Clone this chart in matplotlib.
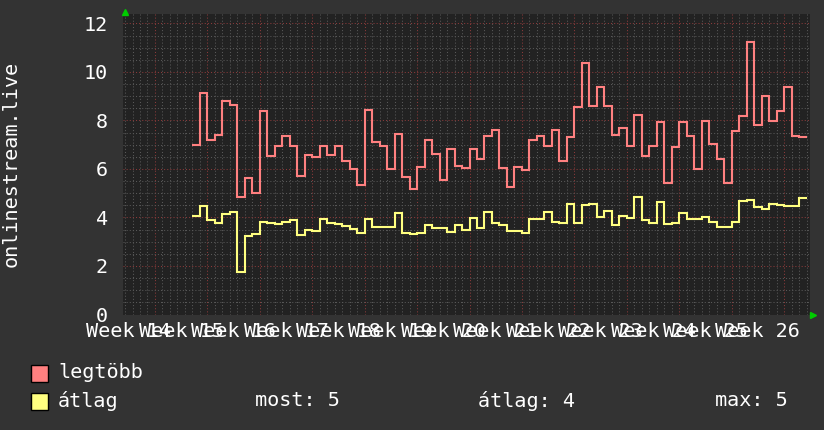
import numpy as np
import matplotlib.pyplot as plt
from matplotlib.patches import Rectangle

# ----------------------
# data (daily values, first value is day 5 of week 15)
# ----------------------

weekLabels = [14, 15, 16, 17, 18, 19, 20, 21, 22, 23, 24, 25, 26]
firstWeek = 15
firstDay = 5

legtobb = [7.0, 9.15, 7.2, 7.42, 8.82, 8.62, 4.84, 5.63, 4.99, 8.37,
           6.55, 6.96, 7.37, 6.96, 5.73, 6.59, 6.48, 6.96, 6.59, 6.96,
           6.34, 5.98, 5.32, 8.44, 7.11, 6.96, 6.0, 7.45, 5.66, 5.18,
           6.07, 7.2, 6.62, 5.54, 6.84, 6.11, 6.05, 6.83, 6.41, 7.34,
           7.62, 6.04, 5.25, 6.07, 5.95, 7.2, 7.37, 6.96, 7.62, 6.32,
           7.3, 8.55, 10.38, 8.58, 9.4, 8.58, 7.41, 7.69, 6.96, 8.23,
           6.55, 6.96, 7.93, 5.43, 6.89, 7.93, 7.37, 6.0, 7.99, 7.04,
           6.43, 5.43, 7.55, 8.17, 11.23, 7.82, 8.99, 7.96, 8.37, 9.4,
           7.37, 7.3]

atlag = [4.06, 4.47, 3.89, 3.76, 4.13, 4.22, 1.76, 3.24, 3.33, 3.83,
         3.76, 3.72, 3.81, 3.88, 3.28, 3.47, 3.44, 3.92, 3.76, 3.72,
         3.65, 3.51, 3.35, 3.92, 3.62, 3.62, 3.62, 4.17, 3.35, 3.31,
         3.36, 3.69, 3.55, 3.55, 3.4, 3.69, 3.47, 3.96, 3.55, 4.22,
         3.76, 3.69, 3.44, 3.44, 3.35, 3.92, 3.92, 4.22, 3.81, 3.76,
         4.57, 3.78, 4.51, 4.57, 4.02, 4.26, 3.69, 4.06, 3.96, 4.84,
         3.89, 3.76, 4.65, 3.75, 3.76, 4.2, 3.92, 3.92, 4.02, 3.81,
         3.61, 3.61, 3.83, 4.68, 4.74, 4.44, 4.33, 4.57, 4.5, 4.47,
         4.47, 4.81]

statNames = ['most: 5', 'átlag: 4', 'max: 5']

# ----------------------
# style
# ----------------------

outerBg = '#333333'
plotBg = '#222222'
redCol = '#ff8080'
yelCol = '#ffff80'
txtCol = '#ffffff'
mono = 'DejaVu Sans Mono'
fs = 14.5

fig = plt.figure(figsize=(8.24, 4.30), dpi=100, facecolor=outerBg)
ax = fig.add_axes([123/824, 1 - 314.5/430, (810-123)/824, (314.5-13.5)/430])
ax.set_facecolor(plotBg)

edges = firstWeek + np.arange(firstDay, firstDay + len(legtobb) + 1) / 7
ax.stairs(legtobb, edges, color=redCol, linewidth=1.5, baseline=None, zorder=3)
ax.stairs(atlag, edges, color=yelCol, linewidth=1.5, baseline=None, zorder=3)

ax.set_xlim(14.39, 27.495)
ax.set_ylim(0, 12.41)

# grid: days / weeks, half units / 2 units
ax.set_xticks(np.arange(15, 28))
ax.set_xticks(np.arange(14 + 3/7, 27.5, 1/7), minor=True)
ax.set_yticks(np.arange(0, 13, 2))
ax.set_yticks(np.arange(0, 12.5, 0.5), minor=True)
ax.grid(which='minor', color='#585858', linestyle=(0, (1, 2)), linewidth=0.75)
ax.grid(which='major', color='#8a3a3a', linestyle=(0, (1, 2)), linewidth=0.75)
ax.set_axisbelow(True)
ax.tick_params(which='both', length=0)
ax.tick_params(axis='x', labelbottom=False)
ax.tick_params(axis='y', labelsize=fs, labelcolor=txtCol, pad=11)
for lbl in ax.get_yticklabels():
    lbl.set_family(mono)
for s in ax.spines.values():
    s.set_visible(False)

ax.set_ylabel('onlinestream.live', family=mono, fontsize=fs, color=txtCol, va='center')
ax.yaxis.set_label_coords(-0.163, 0.5)

# week labels centered in each week
for w in weekLabels:
    ax.text(w + 0.5, -0.025, 'Week %d' % w, transform=ax.get_xaxis_transform(),
            ha='center', va='top', family=mono, fontsize=fs, color=txtCol)

# axis arrows
ax.plot([0.003], [1.005], marker='^', color='#00cc00', markersize=4, transform=ax.transAxes, clip_on=False)
ax.plot([1.004], [0.0], marker='>', color='#00cc00', markersize=4, transform=ax.transAxes, clip_on=False)

# legend
def figY(py):
    return 1 - py / 430

for py, col, name in [(365, redCol, 'legtöbb'), (393, yelCol, 'átlag')]:
    fig.patches.append(Rectangle((31/824, figY(py + 16.5)), 16.5/824, 16.5/430,
                                 facecolor=col, edgecolor='black', linewidth=1,
                                 transform=fig.transFigure))
    fig.text(58/824, figY(py + 8), name, family=mono, fontsize=fs, color=txtCol, va='center')

for px, s in zip([255, 478, 715], statNames):
    fig.text(px/824, figY(401), s, family=mono, fontsize=fs, color=txtCol, va='center')

fig.savefig('out.png', dpi=100, facecolor=outerBg)
